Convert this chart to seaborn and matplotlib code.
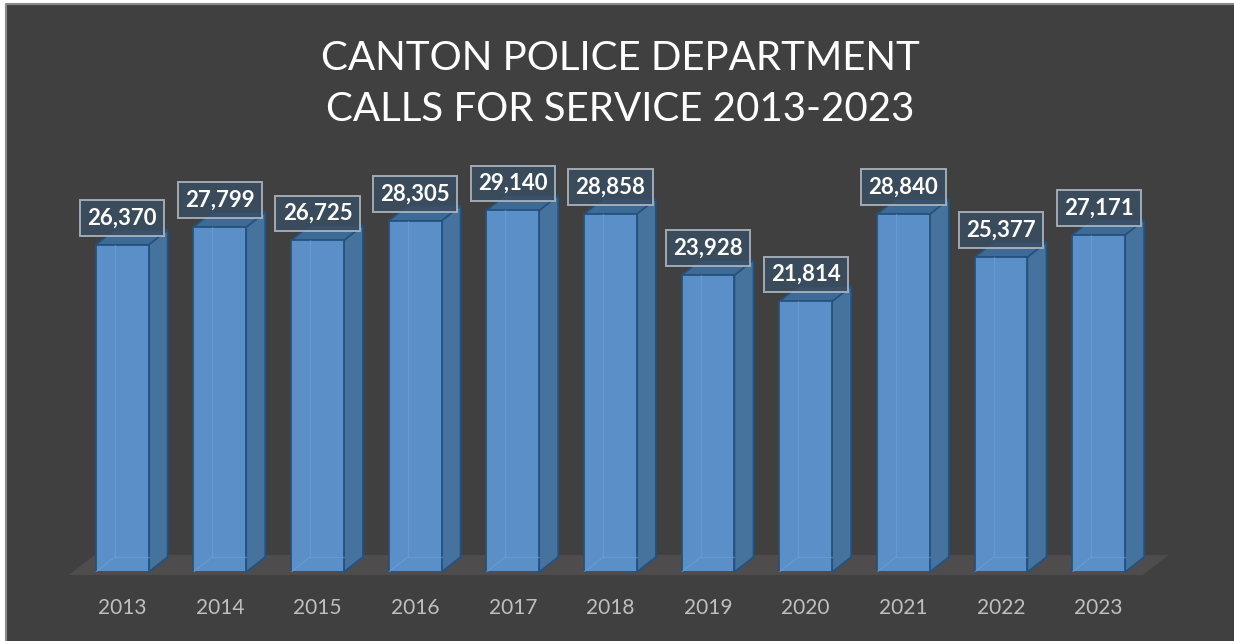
import pandas as pd
import numpy as np
import matplotlib
matplotlib.use("Agg")
import matplotlib.pyplot as plt
import matplotlib.patches as mpatches
import matplotlib.lines as mlines
import seaborn as sns

# ── Dados ─────────────────────────────────────────────────────
YEARS = ["2013", "2014", "2015", "2016", "2017", "2018",
         "2019", "2020", "2021", "2022", "2023"]
CALLS = [26370, 27799, 26725, 28305, 29140, 28858,
         23928, 21814, 28840, 25377, 27171]
TITLE = "CANTON POLICE DEPARTMENT\nCALLS FOR SERVICE 2013-2023"

df = pd.DataFrame({"year": YEARS, "calls": CALLS})

# ── Estilo ────────────────────────────────────────────────────
sns.set_theme(style="dark")
plt.rcParams["font.family"] = ["Lato", "DejaVu Sans"]

BG        = "#404040"
FRONT     = "#5b8fc7"
SIDE      = "#46729e"
TOP       = "#3e6a96"
EDGE      = "#24527f"
FLOOR     = "#4e4c4c"
TICK_CLR  = "#bfbfbf"

W, H = 1234, 641
fig = plt.figure(figsize=(W / 100, H / 100), dpi=100, facecolor="white")
fx, fy = 6 / W, 1 - 4 / H
fig.patches.append(mpatches.Rectangle(
    (fx, 0), 1 - fx, fy, transform=fig.transFigure,
    facecolor=BG, edgecolor="none", zorder=-5))
fig.lines.append(mlines.Line2D([fx, fx, 1], [0, fy, fy],
                               transform=fig.transFigure,
                               color="#8a8a8a", lw=1.5, zorder=-4))

# posição dos eixos (px)
step = 97.65
x_first = 122.2
x_lo, x_hi = -0.55, 10.45
y_max = 32000
px_per_val = 1 / 80.6
left_px = x_first + x_lo * step
right_px = x_first + x_hi * step
bottom_px = 572
ax = fig.add_axes([left_px / W, (H - bottom_px) / H,
                   (right_px - left_px) / W, y_max * px_per_val / H])
ax.set_facecolor("none")

sns.barplot(data=df, x="year", y="calls", color=FRONT, width=0.54,
            saturation=1, edgecolor=EDGE, linewidth=1.3, ax=ax, zorder=3)

ax.set_xlim(x_lo, x_hi)
ax.set_ylim(0, y_max)

# profundidade 3D em unidades de dados
dx = 19 / step
dy = 15 / px_per_val
fdx = 26 / step
f_front = -3 / px_per_val
f_back = 17 / px_per_val

# chão
ax.fill([x_lo, x_hi, x_hi + fdx, x_lo + fdx],
        [f_front, f_front, f_back, f_back],
        color=FLOOR, zorder=1, clip_on=False, lw=0)

for bar in ax.patches[:len(CALLS)]:
    x0 = bar.get_x()
    x1 = x0 + bar.get_width()
    h = bar.get_height()
    # lateral
    ax.fill([x1, x1 + dx, x1 + dx, x1], [0, dy, h + dy, h],
            facecolor=SIDE, edgecolor=EDGE, lw=1.2, zorder=2, clip_on=False)
    # topo
    ax.fill([x0, x1, x1 + dx, x0 + dx], [h, h, h + dy, h + dy],
            facecolor=TOP, edgecolor=EDGE, lw=1.2, zorder=2, clip_on=False)
    # arestas traseiras vistas por transparência
    ax.plot([x0 + dx, x0 + dx], [dy, h], color="#6fa3d8", lw=0.9,
            alpha=0.55, zorder=4)
    ax.plot([x0 + dx, x1], [dy, dy], color="#6fa3d8", lw=0.9,
            alpha=0.55, zorder=4)
    ax.plot([x0, x0 + dx], [0, dy], color="#6fa3d8", lw=0.9,
            alpha=0.55, zorder=4)
    # rótulo
    ax.text((x0 + x1) / 2, h + 27 / px_per_val, f"{int(h):,}",
            ha="center", va="center", color="white", fontsize=16,
            fontweight="bold", zorder=6, clip_on=False,
            bbox=dict(boxstyle="square,pad=0.33", facecolor="#3a4d62",
                      edgecolor="#b4bcc4", linewidth=1.4, alpha=0.85))

ax.set_xlabel("")
ax.set_ylabel("")
ax.set_yticks([])
ax.tick_params(axis="x", length=0, pad=19, labelsize=15, colors=TICK_CLR)
for s in ax.spines.values():
    s.set_visible(False)
ax.grid(False)

fig.text(620 / W, 1 - 84 / H, TITLE, ha="center", va="center",
         color="white", fontsize=29, linespacing=1.45)

fig.savefig("out.png", dpi=100, facecolor=fig.get_facecolor())
